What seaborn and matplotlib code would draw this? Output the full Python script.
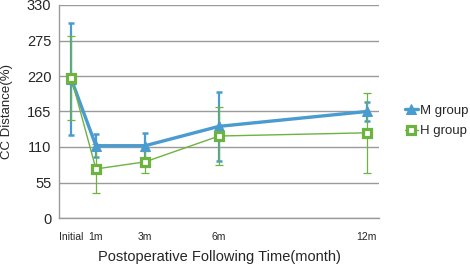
import numpy as np
import pandas as pd
import matplotlib
matplotlib.use('Agg')
import matplotlib.pyplot as plt
import seaborn as sns

# months after surgery (Initial = 0) on a 13-slot category axis
months = [0, 1, 3, 6, 12]
tick_labels = ['Initial', '1m', '3m', '6m', '12m']

m_mean = [215, 112, 112, 142, 165]
m_sd = [87, 18, 19, 53, 14]
h_mean = [217, 76, 87, 127, 132]
h_sd = [65, 38, 17, 45, 62]

blue = '#4a9bd0'
green = '#6cb33f'
grey = '#9a9a9a'

sns.set_style('white')
plt.rcParams['font.family'] = ['Liberation Sans', 'DejaVu Sans']

df = pd.DataFrame({
    'month': months * 2,
    'value': m_mean + h_mean,
    'group': ['M group'] * 5 + ['H group'] * 5,
})

fig = plt.figure(figsize=(4.7, 2.64), dpi=100)
ax = fig.add_axes([59 / 470, 1 - 218 / 264, 320 / 470, 213 / 264])

ax.errorbar(months, h_mean, yerr=h_sd, fmt='none', ecolor=green,
            elinewidth=0.9, capsize=3, capthick=0.9, zorder=3)
ax.errorbar(months, m_mean, yerr=m_sd, fmt='none', ecolor=blue,
            elinewidth=1.6, capsize=2.5, capthick=1.8, zorder=2)

sns.lineplot(data=df[df.group == 'M group'], x='month', y='value', ax=ax,
             color=blue, lw=2.4, marker='^', markersize=7,
             markeredgecolor=blue, markerfacecolor=blue, label='M group',
             zorder=4)
sns.lineplot(data=df[df.group == 'H group'], x='month', y='value', ax=ax,
             color=green, lw=1.0, marker='s', markersize=6,
             markeredgecolor=green, markerfacecolor='white',
             markeredgewidth=2.3, label='H group', zorder=5)

ax.set_xlim(-0.5, 12.5)
ax.set_ylim(0, 330)
ax.set_yticks(np.arange(0, 331, 55))
ax.yaxis.grid(True, color=grey, lw=1)
ax.set_axisbelow(True)

ax.set_xticks(months)
ax.set_xticklabels(tick_labels, fontsize=7.5)
ax.set_xticks(np.arange(-0.5, 12.6, 1), minor=True)
ax.tick_params(axis='x', which='major', length=0, pad=10)
ax.tick_params(axis='x', which='minor', length=3.5, color=grey, width=1)
ax.tick_params(axis='y', length=3.5, color=grey, width=1, labelsize=10.5,
               pad=2)

for side in ['top', 'right']:
    ax.spines[side].set_visible(False)
for side in ['left', 'bottom']:
    ax.spines[side].set_color(grey)
    ax.spines[side].set_linewidth(1)

ax.set_xlabel('Postoperative Following Time(month)', fontsize=10.5,
              labelpad=6)
ax.set_ylabel('CC Distance(%)', fontsize=9.5)
ax.yaxis.set_label_coords(-0.145, 0.5)

handles, labels = ax.get_legend_handles_labels()
ax.legend_.remove()
fig.legend(handles, labels, loc='center left',
           bbox_to_anchor=(398 / 470, 1 - 121 / 264), frameon=False,
           fontsize=9.5, handlelength=1.0, handletextpad=0.15,
           labelspacing=0.6, borderpad=0)

fig.savefig('out.png', dpi=100)
plt.close('all')
